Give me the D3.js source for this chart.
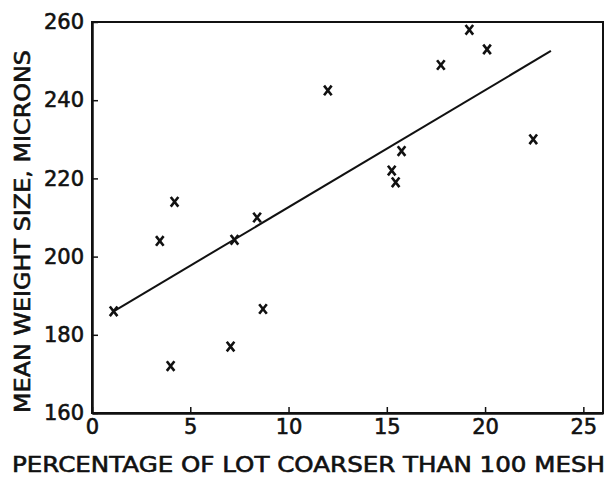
<!DOCTYPE html>
<html>
<head>
<meta charset="utf-8">
<script src="https://cdn.jsdelivr.net/npm/d3@7"></script>
<style>
  body { margin: 0; background: #fff; }
  svg text { font-family: "DejaVu Sans", sans-serif; fill: #111; stroke: #111; stroke-width: 0.6px; }
</style>
</head>
<body>
<svg id="chart" width="609" height="477"></svg>
<script>
// data
var pctCoarse = [1.1, 3.45, 4.2, 4.0, 7.25, 7.05, 8.7, 8.4, 12.0, 15.25, 15.45, 15.75, 17.75, 19.2, 20.1, 22.45];
var meanSize  = [186, 204, 214, 172, 204.3, 177, 186.6, 210, 242.5, 222, 219, 227, 249, 258, 253, 230];
var fitX = [1.1, 23.35];
var fitY = [186, 252.6];
var xTicks = [0, 5, 10, 15, 20, 25];
var yTicks = [160, 180, 200, 220, 240, 260];

var svg = d3.select("#chart");
var pLeft = 92, pRight = 603, pTop = 22, pBottom = 413;

var x = d3.scaleLinear().domain([0, 26]).range([pLeft, pRight]);
var y = d3.scaleLinear().domain([160, 260]).range([pBottom, pTop]);

// frame
svg.append("rect")
    .attr("x", pLeft).attr("y", pTop)
    .attr("width", pRight - pLeft).attr("height", pBottom - pTop)
    .style("fill", "none").style("stroke", "#111").style("stroke-width", 2);

// axes with inward ticks
var xAxis = svg.append("g")
    .attr("transform", "translate(0," + pBottom + ")")
    .call(d3.axisBottom(x).tickValues(xTicks).tickSizeInner(-6).tickSizeOuter(0).tickPadding(6));
var yAxis = svg.append("g")
    .attr("transform", "translate(" + pLeft + ",0)")
    .call(d3.axisLeft(y).tickValues(yTicks).tickSizeInner(-6).tickSizeOuter(0).tickPadding(8));
[xAxis, yAxis].forEach(function(g) {
  g.attr("font-size", 21).attr("font-family", "DejaVu Sans, sans-serif");
  g.select(".domain").style("stroke", "#111").style("stroke-width", 2.5);
  g.selectAll(".tick line").style("stroke", "#111").style("stroke-width", 1.5);
  g.selectAll(".tick text").style("fill", "#111");
});

// regression line
svg.append("line")
    .attr("x1", x(fitX[0])).attr("y1", y(fitY[0]))
    .attr("x2", x(fitX[1])).attr("y2", y(fitY[1]))
    .style("stroke", "#111").style("stroke-width", 2);

// x markers
var pts = pctCoarse.map(function(d, i) { return {p: d, s: meanSize[i]}; });
svg.selectAll("marks")
    .data(pts)
    .enter()
    .append("path")
    .attr("d", function(d) {
      var cx = x(d.p), cy = y(d.s), w = 3.8, h = 4.8;
      return "M" + (cx - w) + "," + (cy - h) + "L" + (cx + w) + "," + (cy + h) +
             "M" + (cx + w) + "," + (cy - h) + "L" + (cx - w) + "," + (cy + h);
    })
    .style("stroke", "#111").style("stroke-width", 2.6).style("fill", "none");

// axis titles
svg.append("text")
    .text("PERCENTAGE OF LOT COARSER THAN 100 MESH")
    .attr("x", 12).attr("y", 472)
    .attr("textLength", 593).attr("lengthAdjust", "spacingAndGlyphs")
    .style("font-size", "21px");
svg.append("text")
    .text("MEAN WEIGHT SIZE, MICRONS")
    .attr("transform", "translate(30,413) rotate(-90)")
    .attr("textLength", 363).attr("lengthAdjust", "spacingAndGlyphs")
    .style("font-size", "21px");
</script>
</body>
</html>
